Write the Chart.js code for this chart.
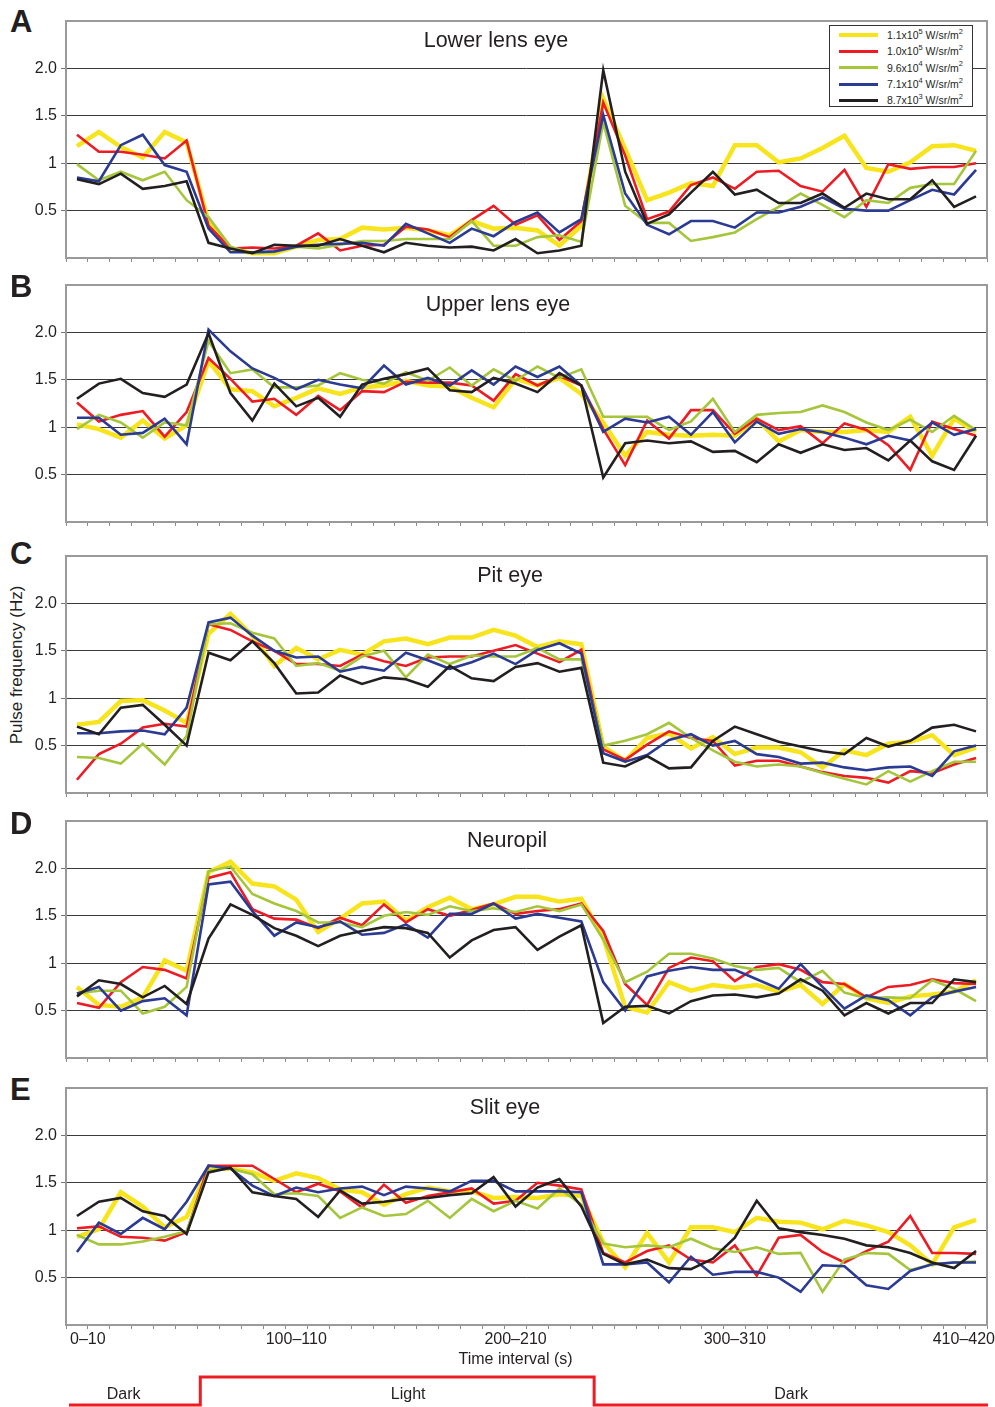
<!DOCTYPE html>
<html lang="en">
<head>
<meta charset="UTF-8">
<title>Pulse frequency per eye type</title>
<script src="https://cdn.jsdelivr.net/npm/chart.js@4"></script>
<style>
    body { margin: 0; width: 995px; height: 1407px; background: #fff; position: relative; overflow: hidden;
           font-family: "Liberation Sans", Arial, sans-serif; color: #231f20; }
    canvas { position: absolute; left: 0; }
    .letter { position: absolute; left: 10px; font-weight: bold; font-size: 31px; line-height: 31px; }
    #ytitle { position: absolute; left: 17px; top: 665px; transform: translate(-50%, -50%) rotate(-90deg);
              font-size: 17px; white-space: nowrap; }
    #legend { position: absolute; left: 829px; top: 25px; width: 144px; height: 82px; border: 1.5px solid #333;
              background: #fff; z-index: 5; padding-top: 1px; box-sizing: border-box; }
    #legend .row { height: 16.3px; display: flex; align-items: center; }
    #legend .swatch { margin-left: 9px; width: 39px; margin-right: 9px; }
    #legend .txt { font-size: 10.5px; line-height: 12px; white-space: nowrap; }
    #legend sup { font-size: 7.5px; line-height: 0; position: relative; top: -1px; vertical-align: super; }
</style>
</head>
<body>
<div id="ytitle">Pulse frequency (Hz)</div>
<div id="legend"></div>

<script>
    // 42 ten-second bins
    const intervals = ['0–10', '10–20', '20–30', '30–40', '40–50', '50–60', '60–70', '70–80', '80–90', '90–100',
        '100–110', '110–120', '120–130', '130–140', '140–150', '150–160', '160–170', '170–180', '180–190', '190–200',
        '200–210', '210–220', '220–230', '230–240', '240–250', '250–260', '260–270', '270–280', '280–290', '290–300',
        '300–310', '310–320', '320–330', '330–340', '340–350', '350–360', '360–370', '370–380', '380–390', '390–400',
        '400–410', '410–420'];
    const xTickShown = ['0–10', '100–110', '200–210', '300–310', '410–420'];
    const yTicks = [0.5, 1, 1.5, 2];
    const yTickLabels = ['0.5', '1', '1.5', '2.0'];

    // light intensities (legend)
    const intensityMantissa = ['1.1', '1.0', '9.6', '7.1', '8.7'];
    const intensityExponent = [5, 5, 4, 4, 3];

    // A  Lower lens eye
    const lower_1p1e5 = [1.18, 1.33, 1.17, 1.06, 1.33, 1.22, 0.38, 0.10, 0.05, 0.05, 0.12, 0.19, 0.20, 0.32, 0.30, 0.32, 0.29, 0.24, 0.39, 0.31, 0.32, 0.29, 0.13, 0.34, 1.68, 1.15, 0.61, 0.69, 0.79, 0.76, 1.19, 1.19, 1.01, 1.05, 1.16, 1.29, 0.95, 0.91, 1.01, 1.18, 1.19, 1.13];
    const lower_1p0e5 = [1.30, 1.12, 1.12, 1.09, 1.05, 1.24, 0.34, 0.10, 0.11, 0.10, 0.13, 0.26, 0.08, 0.13, 0.14, 0.33, 0.30, 0.22, 0.40, 0.55, 0.35, 0.45, 0.19, 0.39, 1.64, 1.08, 0.41, 0.49, 0.77, 0.85, 0.73, 0.91, 0.92, 0.76, 0.70, 0.93, 0.54, 0.99, 0.94, 0.96, 0.96, 1.00];
    const lower_9p6e4 = [0.99, 0.82, 0.91, 0.82, 0.91, 0.61, 0.43, 0.12, 0.05, 0.06, 0.12, 0.10, 0.14, 0.18, 0.18, 0.20, 0.20, 0.20, 0.39, 0.13, 0.13, 0.22, 0.24, 0.17, 1.43, 0.55, 0.37, 0.37, 0.18, 0.22, 0.27, 0.41, 0.54, 0.68, 0.56, 0.43, 0.61, 0.58, 0.74, 0.78, 0.78, 1.13];
    const lower_7p1e4 = [0.85, 0.81, 1.19, 1.30, 0.98, 0.91, 0.31, 0.06, 0.06, 0.07, 0.12, 0.14, 0.15, 0.16, 0.13, 0.36, 0.26, 0.16, 0.31, 0.23, 0.38, 0.48, 0.27, 0.41, 1.51, 0.68, 0.35, 0.25, 0.39, 0.39, 0.32, 0.48, 0.48, 0.54, 0.64, 0.52, 0.50, 0.50, 0.61, 0.72, 0.67, 0.93];
    const lower_8p7e3 = [0.83, 0.78, 0.89, 0.73, 0.76, 0.81, 0.16, 0.10, 0.05, 0.14, 0.13, 0.13, 0.20, 0.13, 0.06, 0.16, 0.13, 0.11, 0.12, 0.08, 0.20, 0.05, 0.08, 0.13, 1.98, 0.91, 0.36, 0.46, 0.69, 0.91, 0.67, 0.72, 0.58, 0.58, 0.68, 0.53, 0.68, 0.62, 0.62, 0.82, 0.54, 0.65];

    // B  Upper lens eye
    const upper_1p1e5 = [1.03, 0.98, 0.89, 1.07, 0.88, 1.02, 1.70, 1.40, 1.38, 1.22, 1.31, 1.41, 1.35, 1.42, 1.44, 1.49, 1.44, 1.43, 1.31, 1.21, 1.51, 1.44, 1.52, 1.35, 1.05, 0.70, 0.95, 0.92, 0.91, 0.92, 0.91, 1.09, 0.85, 0.97, 0.95, 0.95, 0.97, 0.95, 1.11, 0.70, 1.09, 0.95];
    const upper_1p0e5 = [1.26, 1.06, 1.13, 1.17, 0.90, 1.16, 1.73, 1.51, 1.27, 1.30, 1.13, 1.33, 1.18, 1.38, 1.37, 1.48, 1.47, 1.47, 1.44, 1.28, 1.56, 1.44, 1.54, 1.44, 0.98, 0.60, 1.07, 0.88, 1.18, 1.18, 0.93, 1.09, 0.97, 1.01, 0.83, 1.04, 0.97, 0.81, 0.55, 1.06, 0.98, 0.91];
    const upper_9p6e4 = [0.98, 1.13, 1.05, 0.89, 1.05, 1.02, 1.91, 1.57, 1.61, 1.42, 1.42, 1.44, 1.57, 1.50, 1.46, 1.58, 1.49, 1.63, 1.44, 1.61, 1.49, 1.64, 1.52, 1.61, 1.11, 1.11, 1.11, 0.97, 1.06, 1.30, 0.95, 1.13, 1.15, 1.16, 1.23, 1.16, 1.05, 0.97, 1.08, 0.95, 1.12, 0.97];
    const upper_7p1e4 = [1.10, 1.10, 0.92, 0.94, 1.09, 0.82, 2.03, 1.80, 1.62, 1.52, 1.40, 1.50, 1.45, 1.41, 1.65, 1.45, 1.52, 1.44, 1.60, 1.45, 1.64, 1.53, 1.64, 1.44, 0.95, 1.09, 1.05, 1.11, 0.92, 1.16, 0.84, 1.06, 0.93, 0.98, 0.95, 0.89, 0.82, 0.91, 0.86, 1.05, 0.92, 0.98];
    const upper_8p7e3 = [1.30, 1.46, 1.51, 1.36, 1.32, 1.45, 1.99, 1.36, 1.07, 1.46, 1.22, 1.31, 1.11, 1.45, 1.51, 1.56, 1.62, 1.39, 1.37, 1.52, 1.46, 1.37, 1.57, 1.44, 0.47, 0.83, 0.86, 0.83, 0.85, 0.74, 0.75, 0.63, 0.82, 0.73, 0.82, 0.76, 0.78, 0.65, 0.86, 0.64, 0.55, 0.91];

    // C  Pit eye
    const pit_1p1e5 = [0.72, 0.75, 0.97, 0.98, 0.87, 0.74, 1.68, 1.89, 1.66, 1.34, 1.53, 1.41, 1.51, 1.46, 1.60, 1.63, 1.57, 1.64, 1.64, 1.72, 1.66, 1.54, 1.60, 1.57, 0.49, 0.34, 0.58, 0.63, 0.47, 0.59, 0.41, 0.48, 0.48, 0.43, 0.27, 0.45, 0.40, 0.52, 0.54, 0.61, 0.40, 0.48];
    const pit_1p0e5 = [0.14, 0.41, 0.52, 0.69, 0.73, 0.70, 1.78, 1.72, 1.60, 1.50, 1.36, 1.36, 1.34, 1.46, 1.39, 1.34, 1.43, 1.44, 1.44, 1.50, 1.56, 1.47, 1.38, 1.51, 0.46, 0.35, 0.51, 0.65, 0.58, 0.55, 0.29, 0.34, 0.34, 0.28, 0.22, 0.18, 0.16, 0.11, 0.23, 0.21, 0.30, 0.37];
    const pit_9p6e4 = [0.38, 0.37, 0.31, 0.52, 0.30, 0.60, 1.78, 1.79, 1.69, 1.63, 1.34, 1.37, 1.29, 1.44, 1.50, 1.22, 1.46, 1.36, 1.45, 1.44, 1.44, 1.53, 1.41, 1.41, 0.50, 0.55, 0.62, 0.74, 0.58, 0.45, 0.33, 0.28, 0.30, 0.28, 0.21, 0.15, 0.09, 0.23, 0.12, 0.23, 0.33, 0.33];
    const pit_7p1e4 = [0.63, 0.63, 0.65, 0.66, 0.62, 0.90, 1.80, 1.85, 1.66, 1.50, 1.43, 1.44, 1.28, 1.33, 1.29, 1.48, 1.40, 1.31, 1.38, 1.47, 1.36, 1.51, 1.58, 1.47, 0.42, 0.33, 0.40, 0.56, 0.62, 0.50, 0.55, 0.41, 0.38, 0.31, 0.32, 0.27, 0.24, 0.27, 0.28, 0.18, 0.44, 0.50];
    const pit_8p7e3 = [0.70, 0.62, 0.90, 0.93, 0.72, 0.50, 1.48, 1.40, 1.60, 1.37, 1.05, 1.06, 1.24, 1.15, 1.22, 1.20, 1.12, 1.34, 1.21, 1.18, 1.33, 1.37, 1.28, 1.32, 0.32, 0.28, 0.39, 0.26, 0.27, 0.55, 0.70, 0.62, 0.54, 0.49, 0.44, 0.41, 0.58, 0.49, 0.55, 0.69, 0.72, 0.65];

    // D  Neuropil
    const neuropil_1p1e5 = [0.75, 0.56, 0.54, 0.64, 1.03, 0.92, 1.96, 2.07, 1.84, 1.81, 1.67, 1.33, 1.47, 1.63, 1.65, 1.45, 1.59, 1.69, 1.57, 1.62, 1.70, 1.70, 1.65, 1.68, 1.27, 0.54, 0.48, 0.80, 0.71, 0.77, 0.74, 0.77, 0.70, 0.77, 0.57, 0.78, 0.63, 0.58, 0.65, 0.67, 0.70, 0.82];
    const neuropil_1p0e5 = [0.58, 0.53, 0.80, 0.96, 0.93, 0.84, 1.90, 1.96, 1.57, 1.47, 1.46, 1.37, 1.48, 1.40, 1.62, 1.43, 1.57, 1.50, 1.56, 1.63, 1.52, 1.55, 1.57, 1.63, 1.34, 0.78, 0.56, 0.95, 1.06, 1.02, 0.81, 0.96, 0.99, 0.93, 0.80, 0.78, 0.64, 0.75, 0.77, 0.83, 0.79, 0.78];
    const neuropil_9p6e4 = [0.68, 0.71, 0.71, 0.47, 0.54, 0.75, 1.97, 2.02, 1.73, 1.63, 1.55, 1.43, 1.43, 1.38, 1.50, 1.54, 1.51, 1.60, 1.55, 1.58, 1.54, 1.60, 1.55, 1.62, 1.25, 0.80, 0.91, 1.10, 1.10, 1.05, 0.97, 0.93, 0.95, 0.80, 0.92, 0.69, 0.63, 0.64, 0.63, 0.82, 0.73, 0.60];
    const neuropil_7p1e4 = [0.68, 0.75, 0.50, 0.60, 0.63, 0.45, 1.83, 1.86, 1.55, 1.29, 1.43, 1.38, 1.44, 1.30, 1.32, 1.41, 1.27, 1.52, 1.52, 1.63, 1.47, 1.52, 1.48, 1.44, 0.80, 0.50, 0.86, 0.92, 0.96, 0.93, 0.93, 0.83, 0.73, 0.99, 0.75, 0.52, 0.66, 0.61, 0.45, 0.64, 0.70, 0.75];
    const neuropil_8p7e3 = [0.65, 0.82, 0.78, 0.64, 0.76, 0.57, 1.26, 1.62, 1.51, 1.37, 1.29, 1.18, 1.29, 1.34, 1.38, 1.37, 1.32, 1.06, 1.24, 1.35, 1.38, 1.14, 1.28, 1.40, 0.37, 0.54, 0.55, 0.47, 0.60, 0.66, 0.67, 0.64, 0.68, 0.83, 0.71, 0.45, 0.58, 0.47, 0.58, 0.58, 0.83, 0.80];

    // E  Slit eye
    const slit_1p1e5 = [0.93, 1.01, 1.40, 1.25, 1.03, 1.14, 1.65, 1.65, 1.61, 1.52, 1.60, 1.55, 1.43, 1.40, 1.27, 1.38, 1.45, 1.41, 1.41, 1.34, 1.35, 1.34, 1.38, 1.36, 0.87, 0.61, 0.97, 0.66, 1.03, 1.03, 0.98, 1.13, 1.09, 1.08, 1.01, 1.10, 1.05, 0.98, 0.84, 0.64, 1.03, 1.11];
    const slit_1p0e5 = [1.02, 1.04, 0.93, 0.92, 0.89, 0.98, 1.68, 1.68, 1.68, 1.54, 1.40, 1.49, 1.41, 1.24, 1.48, 1.29, 1.36, 1.40, 1.44, 1.28, 1.31, 1.50, 1.47, 1.43, 0.76, 0.66, 0.78, 0.84, 0.69, 0.66, 0.84, 0.52, 0.92, 0.95, 0.77, 0.66, 0.78, 0.88, 1.15, 0.76, 0.76, 0.75];
    const slit_9p6e4 = [0.95, 0.85, 0.85, 0.88, 0.93, 0.99, 1.63, 1.65, 1.59, 1.38, 1.39, 1.36, 1.13, 1.24, 1.15, 1.17, 1.31, 1.13, 1.33, 1.20, 1.31, 1.23, 1.44, 1.27, 0.86, 0.82, 0.84, 0.82, 0.91, 0.81, 0.77, 0.82, 0.75, 0.76, 0.35, 0.69, 0.76, 0.75, 0.58, 0.64, 0.66, 0.67];
    const slit_7p1e4 = [0.77, 1.08, 0.96, 1.13, 1.01, 1.30, 1.68, 1.65, 1.47, 1.36, 1.45, 1.40, 1.44, 1.46, 1.37, 1.46, 1.44, 1.41, 1.52, 1.52, 1.41, 1.41, 1.41, 1.40, 0.64, 0.64, 0.66, 0.45, 0.72, 0.53, 0.56, 0.56, 0.50, 0.35, 0.63, 0.62, 0.42, 0.38, 0.57, 0.64, 0.66, 0.66];
    const slit_8p7e3 = [1.15, 1.30, 1.34, 1.20, 1.15, 0.96, 1.61, 1.66, 1.40, 1.36, 1.33, 1.14, 1.42, 1.28, 1.30, 1.33, 1.34, 1.37, 1.39, 1.56, 1.25, 1.45, 1.54, 1.25, 0.75, 0.64, 0.69, 0.60, 0.59, 0.70, 0.92, 1.31, 1.02, 0.98, 0.95, 0.91, 0.84, 0.82, 0.76, 0.66, 0.60, 0.78];

    // stimulus: light on from 60 s to 240 s
    const stimTimes = [0, 60, 240, 420];
    const stimState = [0, 1, 0, 0];
    const phaseNames = ['Dark', 'Light', 'Dark'];
    const phaseLabelAt = [25, 155, 330];

    const colors = ['#f7e41c', '#ed1c24', '#a5c63b', '#2b3a93', '#231f20'];
    const widths = [4.5, 2.6, 2.6, 2.6, 2.6];
    const FONT = '"Liberation Sans", Arial, sans-serif';

    const panels = [
        { letter: 'A', title: 'Lower lens eye', top: 21, letterTop: 6, titleX: 496,
          series: [lower_1p1e5, lower_1p0e5, lower_9p6e4, lower_7p1e4, lower_8p7e3] },
        { letter: 'B', title: 'Upper lens eye', top: 285, letterTop: 271, titleX: 498,
          series: [upper_1p1e5, upper_1p0e5, upper_9p6e4, upper_7p1e4, upper_8p7e3] },
        { letter: 'C', title: 'Pit eye', top: 556, letterTop: 538, titleX: 510,
          series: [pit_1p1e5, pit_1p0e5, pit_9p6e4, pit_7p1e4, pit_8p7e3] },
        { letter: 'D', title: 'Neuropil', top: 821, letterTop: 808, titleX: 507,
          series: [neuropil_1p1e5, neuropil_1p0e5, neuropil_9p6e4, neuropil_7p1e4, neuropil_8p7e3] },
        { letter: 'E', title: 'Slit eye', top: 1088, letterTop: 1074, titleX: 505,
          series: [slit_1p1e5, slit_1p0e5, slit_9p6e4, slit_7p1e4, slit_8p7e3], xLabels: true }
    ];

    const PLOT_H = 237;
    const PAD_TOP = 16;

    // legend
    const legend = document.getElementById('legend');
    intensityMantissa.forEach(function (m, k) {
        const row = document.createElement('div');
        row.className = 'row';
        row.innerHTML = '<span class="swatch" style="border-top:' + (k === 0 ? 4 : 3) + 'px solid ' + colors[k] + '"></span>' +
            '<span class="txt">' + m + 'x10<sup>' + intensityExponent[k] + '</sup> W/sr/m<sup>2</sup></span>';
        legend.appendChild(row);
    });

    const framePlugin = {
        id: 'frame',
        beforeDatasetsDraw(chart) {
            const a = chart.chartArea, ctx = chart.ctx;
            ctx.save();
            ctx.strokeStyle = '#9a9a9a';
            ctx.lineWidth = 2;
            ctx.strokeRect(a.left, a.top, a.right - a.left, a.bottom - a.top);
            ctx.restore();
        }
    };

    const panelTextPlugin = {
        id: 'panelText',
        afterDraw(chart) {
            const p = chart.options.plugins.panelText;
            const a = chart.chartArea, ctx = chart.ctx;
            ctx.save();
            ctx.fillStyle = '#231f20';
            ctx.textBaseline = 'middle';
            ctx.textAlign = 'center';
            ctx.font = '21.5px ' + FONT;
            ctx.fillText(p.title, p.titleX, a.top + 20);
            if (p.xLabels) {
                const x = chart.scales.x;
                ctx.font = '16px ' + FONT;
                xTickShown.forEach(function (lab) {
                    const w = ctx.measureText(lab).width;
                    let cx = x.getPixelForValue(intervals.indexOf(lab));
                    cx = Math.max(cx, 70 + w / 2);
                    cx = Math.min(cx, 995 - w / 2);
                    ctx.fillText(lab, cx, a.bottom + 15);
                });
                ctx.fillText('Time interval (s)', x.getPixelForValue(20), a.bottom + 35);
            }
            ctx.restore();
        }
    };

    panels.forEach(function (p) {
        const letter = document.createElement('div');
        letter.className = 'letter';
        letter.style.top = p.letterTop + 'px';
        letter.textContent = p.letter;
        document.body.appendChild(letter);

        const bottomPad = p.xLabels ? 50 : 4;
        const cv = document.createElement('canvas');
        cv.width = 995;
        cv.height = PAD_TOP + PLOT_H + 10 + bottomPad;
        cv.style.top = (p.top - PAD_TOP) + 'px';
        document.body.appendChild(cv);

        new Chart(cv, {
            type: 'line',
            data: {
                labels: intervals,
                datasets: p.series.map(function (vals, k) {
                    return {
                        label: intensityMantissa[k] + 'x10^' + intensityExponent[k],
                        data: vals,
                        borderColor: colors[k],
                        backgroundColor: colors[k],
                        borderWidth: widths[k],
                        borderJoinStyle: 'miter',
                        pointRadius: 0,
                        tension: 0,
                        fill: false,
                        order: 5 - k
                    };
                })
            },
            options: {
                responsive: false,
                animation: false,
                devicePixelRatio: 1,
                layout: { padding: { top: PAD_TOP, right: 8, bottom: bottomPad, left: 0 } },
                plugins: {
                    legend: { display: false },
                    tooltip: { enabled: false },
                    panelText: { title: p.title, titleX: p.titleX, xLabels: !!p.xLabels }
                },
                scales: {
                    x: {
                        type: 'category',
                        offset: true,
                        grid: { offset: true, drawOnChartArea: false, tickLength: 4, color: '#8a8a8a' },
                        border: { display: false },
                        ticks: { display: false },
                        afterFit(s) { s.height = 10; }
                    },
                    y: {
                        min: 0,
                        max: 2.5,
                        afterBuildTicks(s) { s.ticks = yTicks.map(function (v) { return { value: v }; }); },
                        ticks: {
                            padding: 4,
                            color: '#231f20',
                            font: { family: FONT, size: 16 },
                            callback: function (v) { return yTickLabels[yTicks.indexOf(v)]; }
                        },
                        grid: { color: '#3a3a3a', lineWidth: 1, tickLength: 5, tickColor: '#777' },
                        border: { display: false },
                        afterFit(s) { s.width = 66; }
                    }
                }
            },
            plugins: [framePlugin, panelTextPlugin]
        });
    });

    // light / dark stimulus bar
    const stimCanvas = document.createElement('canvas');
    stimCanvas.width = 995;
    stimCanvas.height = 47;
    stimCanvas.style.top = '1360px';
    document.body.appendChild(stimCanvas);

    new Chart(stimCanvas, {
        type: 'line',
        data: {
            datasets: [{
                data: stimTimes.map(function (t, i) { return { x: t, y: stimState[i] }; }),
                stepped: 'before',
                borderColor: '#ed1c24',
                borderWidth: 3,
                pointRadius: 0,
                clip: false
            }]
        },
        options: {
            responsive: false,
            animation: false,
            devicePixelRatio: 1,
            layout: { padding: { top: 17, right: 7, bottom: 2, left: 69 } },
            plugins: { legend: { display: false }, tooltip: { enabled: false } },
            scales: {
                x: { type: 'linear', min: 0, max: 420, display: false },
                y: { min: 0, max: 1, display: false }
            }
        },
        plugins: [{
            id: 'phaseLabels',
            afterDraw(chart) {
                const ctx = chart.ctx, x = chart.scales.x;
                ctx.save();
                ctx.fillStyle = '#231f20';
                ctx.font = '16px ' + FONT;
                ctx.textAlign = 'center';
                ctx.textBaseline = 'middle';
                phaseNames.forEach(function (n, i) {
                    ctx.fillText(n, x.getPixelForValue(phaseLabelAt[i]), chart.chartArea.bottom - 10);
                });
                ctx.restore();
            }
        }]
    });
</script>
</body>
</html>
